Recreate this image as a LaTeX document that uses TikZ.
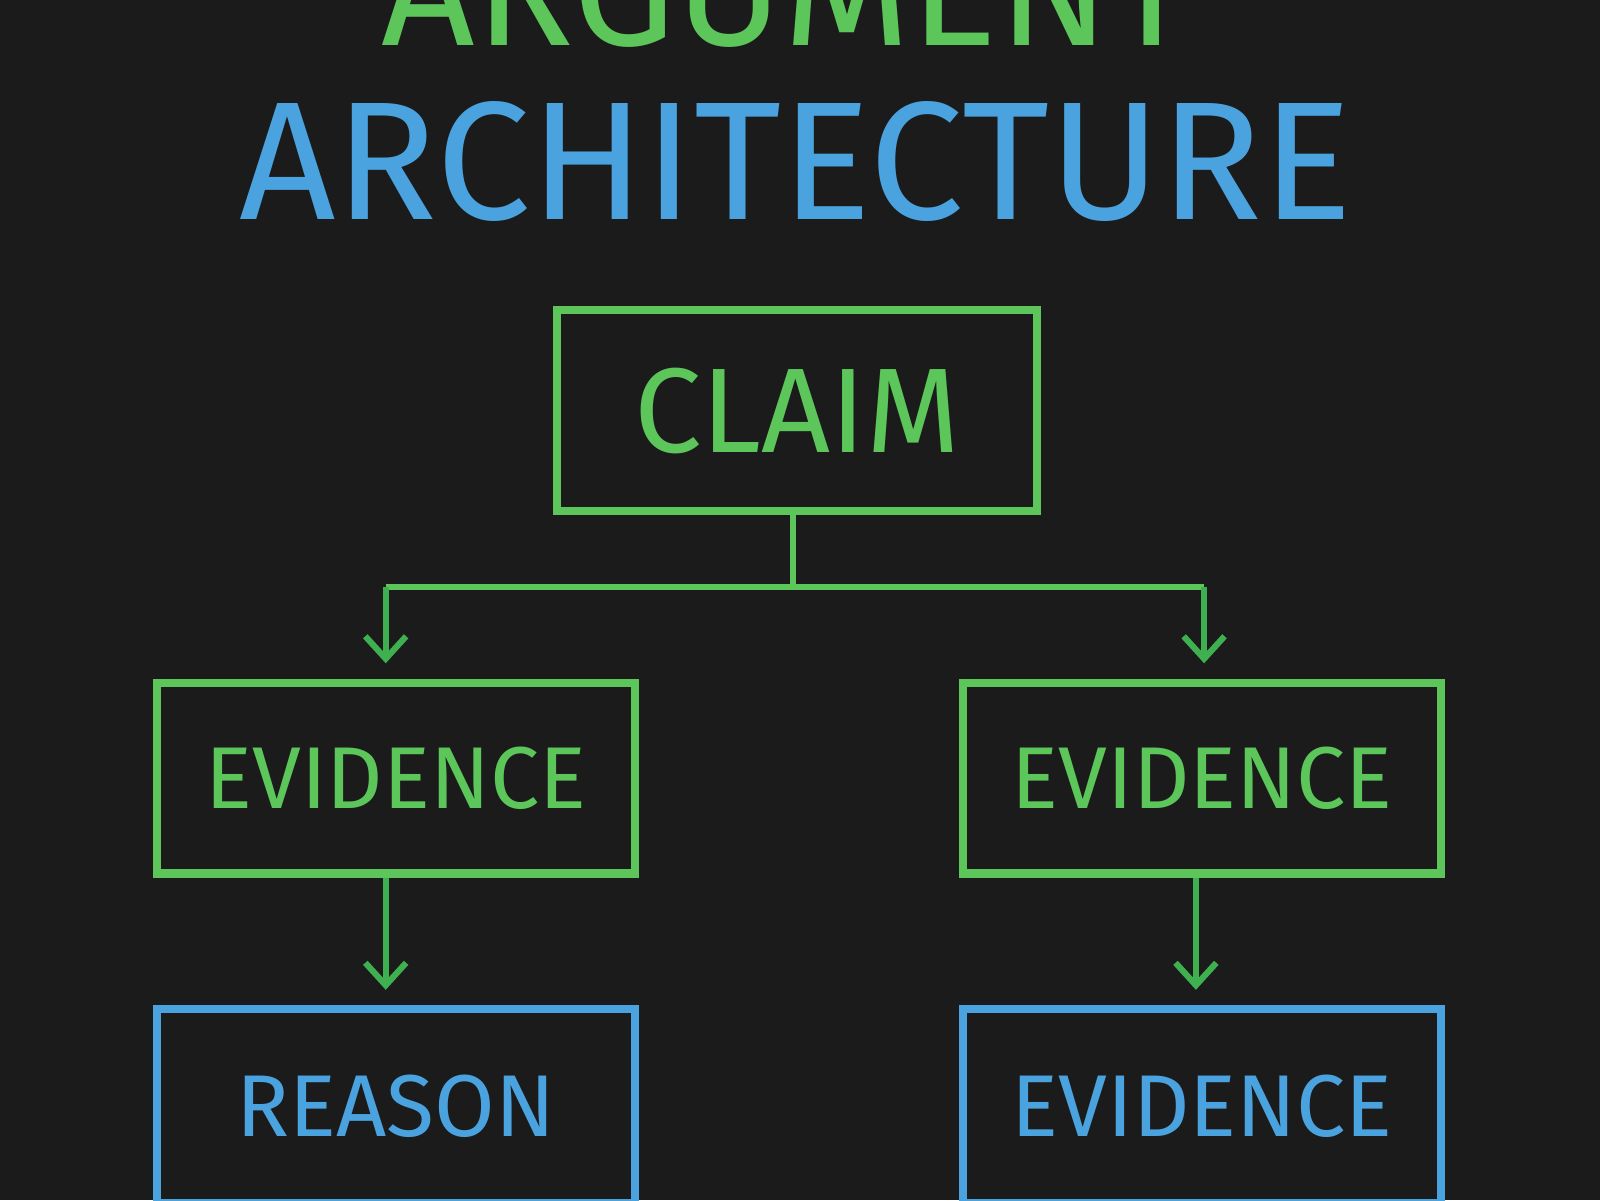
\documentclass[tikz,border=0pt]{standalone}
\usepackage{fontspec}
\setmainfont{Fira Sans}
\usetikzlibrary{arrows.meta}
\definecolor{bg}{HTML}{1B1B1B}
\definecolor{chg}{HTML}{5CC65A}
\definecolor{chb}{HTML}{4AA3DF}
\definecolor{chga}{HTML}{3EB050}
\tikzset{
 box/.style={draw=#1,line width=8pt,anchor=north west,inner sep=0pt,text=#1},
 lbl/.style={font=\fontsize{86}{86}\selectfont},
 conn/.style={draw=chg,line width=6pt},
 arr/.style={draw=chga,line width=6pt,-{Straight Barb[length=22pt,width=40pt,line width=6pt]}}
}
\begin{document}
\begin{tikzpicture}[x=1pt,y=-1pt]
\fill[bg] (0,0) rectangle (1568,1176);
\useasboundingbox (0,0) rectangle (1568,1176);
\begin{scope}
\clip (0,0) rectangle (1568,1176);
\node[text=chg,anchor=base,font=\fontsize{160}{160}\selectfont] (t1) at (772,45) {ARGUMENT};
\end{scope}
\node[text=chb,anchor=base,font=\fontsize{165}{165}\selectfont] (t2) at (780,215) {ARCHITECTURE};
\node[box=chg,minimum width=470pt,minimum height=197pt,font=\fontsize{118}{118}\selectfont] (claim) at (542,300) {CLAIM};
\node[box=chg,lbl,minimum width=468pt,minimum height=187pt] (e1) at (150,665) {EVIDENCE};
\node[box=chg,lbl,minimum width=468pt,minimum height=187pt] (e2) at (940,665) {EVIDENCE};
\node[box=chb,lbl,minimum width=468pt,minimum height=190pt] (r1) at (150,985) {REASON};
\node[box=chb,lbl,minimum width=468pt,minimum height=190pt] (e3) at (940,985) {EVIDENCE};
\coordinate (j) at (777,575);
\coordinate (jl) at (378,575);
\coordinate (jr) at (1180,575);
\draw[conn] (claim.south -| j) -- (j);
\draw[conn] (jl) -- (jr);
\draw[arr] (jl) -- (378,650);
\draw[arr] (jr) -- (1180,650);
\draw[arr] (e1.south -| 378,0) -- (378,970);
\draw[arr] (e2.south -| 1172,0) -- (1172,970);
\end{tikzpicture}
\end{document}
